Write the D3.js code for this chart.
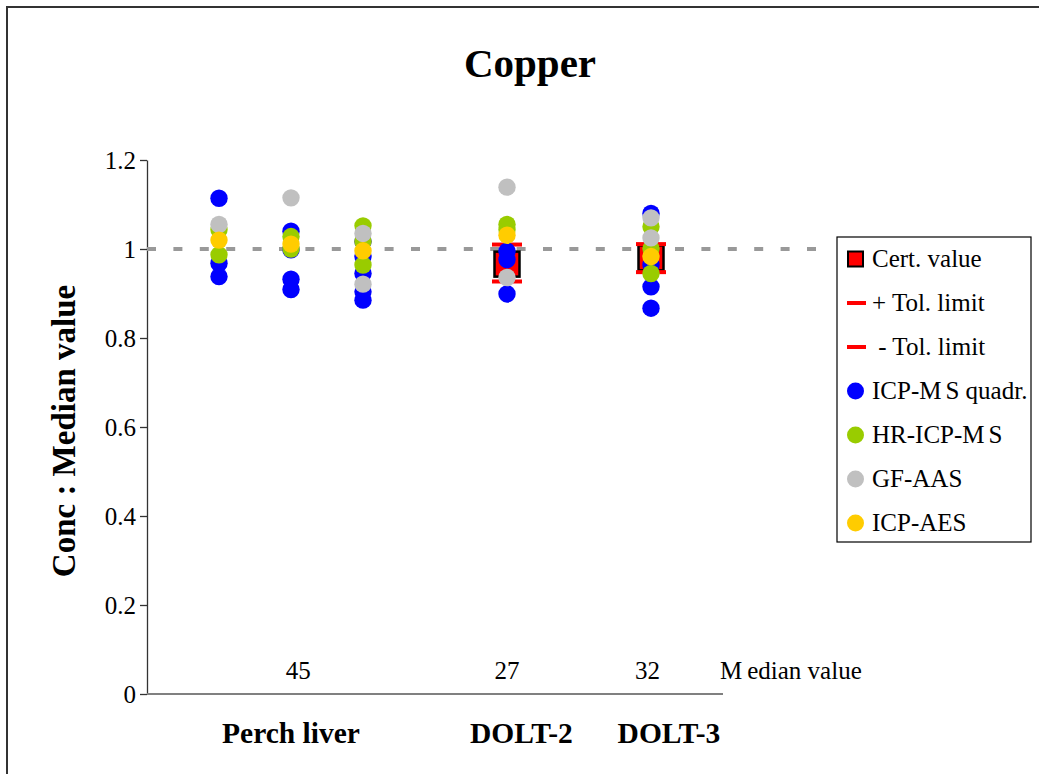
<!DOCTYPE html>
<html>
<head>
<meta charset="utf-8">
<script src="https://cdn.jsdelivr.net/npm/d3@7"></script>
<style>
  html, body { margin: 0; padding: 0; background: #fff; }
  svg { display: block; }
  text { font-family: "Liberation Serif", "Times New Roman", serif; fill: #000; }
</style>
</head>
<body>
<svg id="chart" width="1039" height="774"></svg>
<script>
// Copper: measured concentration divided by the median value, per sample column
const columnX = [1, 2, 3, 5, 7];

// one inner array per column
const icpmsQuadr = [[1.114, 0.968, 0.938], [1.040, 0.998, 0.932, 0.909], [1.017, 0.983, 0.945, 0.904, 0.885], [0.995, 0.976, 0.899], [1.080, 0.964, 0.915, 0.867]];
const hrIcpms    = [[1.043, 0.987], [1.028, 1.000], [1.052, 1.017, 0.964], [1.055, 1.043], [1.050, 1.001, 0.945]];
const gfAas      = [[1.055], [1.115], [1.035, 0.921], [1.139, 0.936], [1.070, 1.025]];
const icpAes     = [[1.020], [1.011], [0.996], [1.031], [0.983]];

// certified reference materials
const certX     = [5, 7];
const certValue = [0.966, 0.980];
const plusTol   = [1.010, 1.011];
const minusTol  = [0.927, 0.948];

// samples along the axis
const sampleNames  = ["Perch liver", "DOLT-2", "DOLT-3"];
const sampleX      = [2, 5.2, 7.25];
const medianValues = [45, 27, 32];
const medianX      = [2.1, 5, 6.95];

const yTicks = [0, 0.2, 0.4, 0.6, 0.8, 1, 1.2];

const legendItems = ["Cert. value", "+ Tol. limit", " - Tol. limit", "ICP-MS quadr.", "HR-ICP-MS", "GF-AAS", "ICP-AES"];

const colors = { blue: "#0000ff", green: "#99cc00", grey: "#c0c0c0", yellow: "#ffcc00", red: "#ff0000" };

const svg = d3.select("#chart");

// outer frame
svg.append("rect").attr("x", 7).attr("y", 7).attr("width", 1100).attr("height", 800)
  .attr("fill", "none").attr("stroke", "#333").attr("stroke-width", 2);

const x = d3.scaleLinear().domain([0, 8]).range([147, 723]);
const y = d3.scaleLinear().domain([0, 1.2]).range([694, 160]);

// title
svg.append("text").attr("x", 530).attr("y", 77).attr("text-anchor", "middle")
  .style("font-size", "41px").style("font-weight", "bold").text("Copper");

// y axis title
svg.append("text").attr("transform", "translate(75,431) rotate(-90)").attr("text-anchor", "middle")
  .style("font-size", "33px").style("font-weight", "bold").text("Conc : Median value");

// y axis
const yAxis = svg.append("g").attr("transform", "translate(147,0)")
  .call(d3.axisLeft(y).tickValues(yTicks).tickFormat(d3.format("~g")).tickSize(7).tickSizeOuter(0).tickPadding(4));
yAxis.select(".domain").attr("stroke", "#333").attr("stroke-width", 1.3);
yAxis.selectAll(".tick line").attr("stroke", "#333").attr("stroke-width", 1.3);
yAxis.selectAll(".tick text").style("font-size", "25px").style("font-family", "'Liberation Serif', serif");

// x axis baseline
svg.append("line").attr("x1", x(0)).attr("x2", x(8)).attr("y1", y(0)).attr("y2", y(0))
  .attr("stroke", "#808080").attr("stroke-width", 2);

// reference level 1
svg.append("line").attr("x1", x(0)).attr("x2", 821).attr("y1", y(1)).attr("y2", y(1))
  .attr("stroke", "#999").attr("stroke-width", 4).attr("stroke-dasharray", "9 17.4");

// certified value squares
const certG = svg.append("g");
certX.forEach((cx, i) => {
  certG.append("rect").attr("x", x(cx) - 12.5).attr("y", y(certValue[i]) - 12.5)
    .attr("width", 25).attr("height", 25)
    .attr("fill", colors.red).attr("stroke", "#000").attr("stroke-width", 2.5);
});
// tolerance limits
[plusTol, minusTol].forEach(tol => {
  certX.forEach((cx, i) => {
    certG.append("line").attr("x1", x(cx) - 15).attr("x2", x(cx) + 15)
      .attr("y1", y(tol[i])).attr("y2", y(tol[i]))
      .attr("stroke", colors.red).attr("stroke-width", 4);
  });
});

// method series, later series drawn on top
const series = [
  { values: icpmsQuadr, color: colors.blue },
  { values: hrIcpms, color: colors.green },
  { values: gfAas, color: colors.grey },
  { values: icpAes, color: colors.yellow }
];
series.forEach(s => {
  const pts = [];
  s.values.forEach((col, ci) => col.forEach(v => pts.push({ cx: columnX[ci], v })));
  svg.append("g").selectAll("circle").data(pts).join("circle")
    .attr("cx", d => x(d.cx)).attr("cy", d => y(d.v)).attr("r", 8.7)
    .attr("fill", s.color);
});

// median values row
svg.append("g").selectAll("text").data(medianValues).join("text")
  .attr("x", (d, i) => x(medianX[i])).attr("y", 679).attr("text-anchor", "middle")
  .style("font-size", "25px").text(d => d);
const mv = svg.append("text").attr("x", 720).attr("y", 679).style("font-size", "25px");
mv.append("tspan").text("M");
mv.append("tspan").attr("dx", 5).text("edian value");

// sample names
svg.append("g").selectAll("text").data(sampleNames).join("text")
  .attr("x", (d, i) => x(sampleX[i])).attr("y", 743).attr("text-anchor", "middle")
  .style("font-size", "29.5px").style("font-weight", "bold").text(d => d);

// legend
const lg = svg.append("g");
lg.append("rect").attr("x", 837).attr("y", 237).attr("width", 194).attr("height", 305)
  .attr("fill", "#fff").attr("stroke", "#000").attr("stroke-width", 1.2);
const markerColors = [null, null, null, colors.blue, colors.green, colors.grey, colors.yellow];
legendItems.forEach((label, i) => {
  const cy = 259 + i * 44;
  if (i === 0) {
    lg.append("rect").attr("x", 848).attr("y", cy - 7.5).attr("width", 15).attr("height", 15)
      .attr("fill", colors.red).attr("stroke", "#000").attr("stroke-width", 2);
  } else if (i < 3) {
    lg.append("line").attr("x1", 847).attr("x2", 866).attr("y1", cy).attr("y2", cy)
      .attr("stroke", colors.red).attr("stroke-width", 4);
  } else {
    lg.append("circle").attr("cx", 855.5).attr("cy", cy).attr("r", 8.5).attr("fill", markerColors[i]);
  }
  const t = lg.append("text").attr("x", 872).attr("y", cy + 8).style("font-size", "25px");
  const mIdx = label.indexOf("M");
  if (mIdx > 0 && label.includes("MS")) {
    t.append("tspan").text(label.slice(0, mIdx + 1));
    t.append("tspan").attr("dx", 4).text(label.slice(mIdx + 1));
  } else {
    t.attr("xml:space", "preserve").style("white-space", "pre").text(label);
  }
});
</script>
</body>
</html>
